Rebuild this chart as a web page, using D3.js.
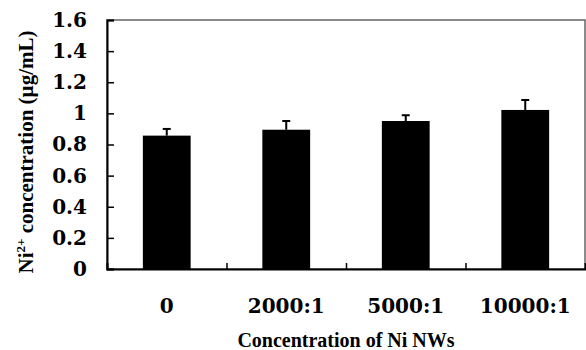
<!DOCTYPE html>
<html>
<head>
<meta charset="utf-8">
<script src="https://cdn.jsdelivr.net/npm/d3@7"></script>
<style>
  body { margin: 0; background: #fff; }
  svg { display: block; }
</style>
</head>
<body>
<div id="chart"></div>
<script>
// data
const categories = ['0', '2000:1', '5000:1', '10000:1'];
const means = [0.857, 0.895, 0.951, 1.022];
const errs = [0.043, 0.056, 0.037, 0.064];
const yTicks = [0, 0.2, 0.4, 0.6, 0.8, 1, 1.2, 1.4, 1.6];

const width = 586, height = 350;
const margin = { top: 20, right: 1, bottom: 81, left: 107 };

const svg = d3.select('#chart')
  .append('svg')
  .attr('width', width)
  .attr('height', height);

const x = d3.scaleBand()
  .domain(categories)
  .range([margin.left, width - margin.right])
  .paddingInner(0.6)
  .paddingOuter(0.3);

const y = d3.scaleLinear()
  .domain([0, 1.6])
  .range([height - margin.bottom, margin.top]);

// index scale for the separator ticks between categories
const xi = d3.scaleLinear()
  .domain([0, categories.length])
  .range([margin.left, width - margin.right]);

// plot frame (top / right in grey)
svg.append('rect')
  .attr('x', margin.left)
  .attr('y', margin.top)
  .attr('width', width - margin.right - margin.left)
  .attr('height', height - margin.bottom - margin.top)
  .style('fill', 'none')
  .style('stroke', '#666')
  .style('stroke-width', 1.5);

// bars
svg.selectAll('.bar')
  .data(means)
  .enter()
  .append('rect')
  .attr('class', 'bar')
  .attr('x', (d, i) => x(categories[i]))
  .attr('y', d => y(d))
  .attr('width', x.bandwidth())
  .attr('height', d => y(0) - y(d))
  .style('fill', '#000');

// error bars (upper only)
const eb = svg.selectAll('.err')
  .data(means)
  .enter()
  .append('g')
  .attr('class', 'err')
  .style('stroke', '#000')
  .style('stroke-width', 2);

eb.append('line')
  .attr('x1', (d, i) => x(categories[i]) + x.bandwidth() / 2)
  .attr('x2', (d, i) => x(categories[i]) + x.bandwidth() / 2)
  .attr('y1', d => y(d))
  .attr('y2', (d, i) => y(d + errs[i]));

eb.append('line')
  .attr('x1', (d, i) => x(categories[i]) + x.bandwidth() / 2 - 4)
  .attr('x2', (d, i) => x(categories[i]) + x.bandwidth() / 2 + 4)
  .attr('y1', (d, i) => y(d + errs[i]))
  .attr('y2', (d, i) => y(d + errs[i]));

// y axis
const yAxis = svg.append('g')
  .attr('transform', `translate(${margin.left},0)`)
  .call(d3.axisLeft(y).tickValues(yTicks).tickSize(-7).tickPadding(20)
    .tickFormat(d => String(d)));
yAxis.select('.domain').style('stroke-width', 2);
yAxis.selectAll('.tick line').style('stroke-width', 1.5);
yAxis.selectAll('text')
  .style('font-family', '"DejaVu Serif", serif')
  .style('font-weight', 'bold')
  .style('font-size', '20px')
  .style('fill', '#000');

// x axis: separator ticks
const xSep = svg.append('g')
  .attr('transform', `translate(0,${y(0)})`)
  .call(d3.axisBottom(xi).tickValues([1, 2, 3]).tickSize(-6).tickFormat(''));
xSep.select('.domain').style('stroke-width', 2);
xSep.selectAll('.tick line').style('stroke-width', 1.5);

// x axis: category labels
const xAxis = svg.append('g')
  .attr('transform', `translate(0,${y(0)})`)
  .call(d3.axisBottom(x).tickSize(0).tickPadding(30));
xAxis.select('.domain').remove();
xAxis.selectAll('text')
  .style('font-family', '"DejaVu Serif", serif')
  .style('font-weight', 'bold')
  .style('font-size', '20px')
  .style('fill', '#000');

// axis titles
svg.append('text')
  .attr('x', 346)
  .attr('y', 347)
  .attr('text-anchor', 'middle')
  .style('font-family', '"Liberation Serif", serif')
  .style('font-weight', 'bold')
  .style('font-size', '20px')
  .text('Concentration of Ni NWs');

const yt = svg.append('text')
  .attr('transform', 'translate(33,152) rotate(-90)')
  .attr('text-anchor', 'middle')
  .style('font-family', '"Liberation Serif", serif')
  .style('font-weight', 'bold')
  .style('font-size', '21px');
yt.append('tspan').text('Ni');
yt.append('tspan').attr('dy', -8).style('font-size', '13px').text('2+');
yt.append('tspan').attr('dy', 8).text(' concentration (µg/mL)');
</script>
</body>
</html>
